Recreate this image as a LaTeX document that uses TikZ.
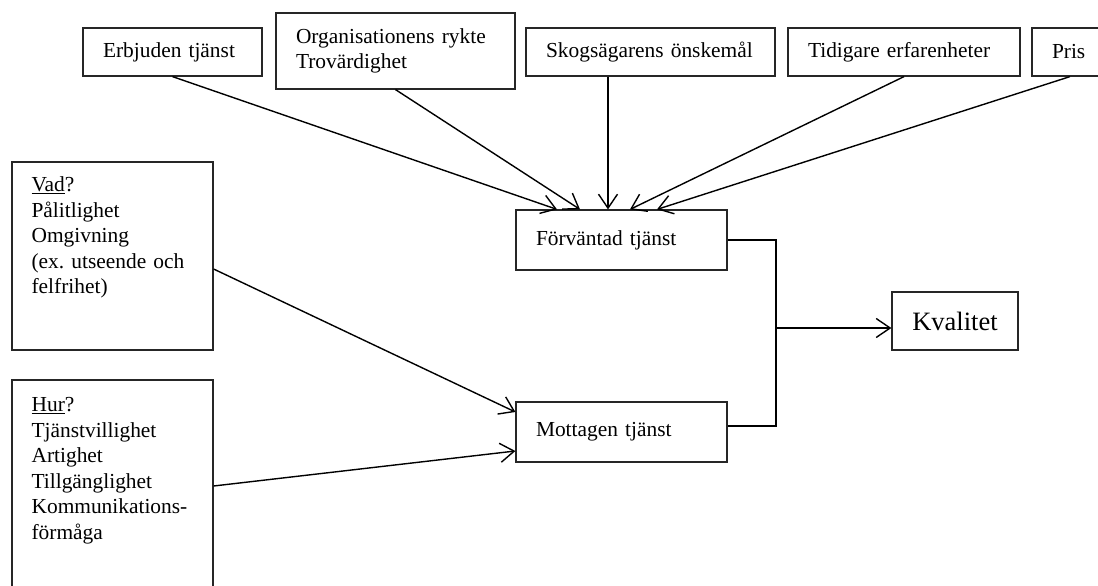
\documentclass[tikz,border=0pt]{standalone}
\usepackage{fontspec}
\setmainfont{Liberation Serif}
\usetikzlibrary{arrows.meta}
\frenchspacing

\begin{document}
\begin{tikzpicture}[
	x=1pt, y=-1pt,
	ruta/.style={rectangle, draw=black!85, line width=1.2pt, inner xsep=20pt, inner ysep=0pt, align=left, font=\fontsize{21.4}{25.6}\selectfont},
	lista/.style={inner sep=0pt, align=left, text width=170pt, anchor=base west, font=\fontsize{21.4}{25.6}\selectfont},
	pil/.style={-{Straight Barb[length=14pt, width=19pt]}, line width=1.4pt},
	linje/.style={line width=1.4pt},
	]
	\useasboundingbox (0,0) rectangle (1098,586);
	\clip (0,0) rectangle (1098,586);

		%Nodes
    \node[ruta, minimum width=179pt, minimum height=48pt, text width=139pt]        (ET)   at (172.5,52)     {Erbjuden tjänst};
    \node[ruta, minimum width=239pt, minimum height=76pt, text width=199pt]        (OR)   at (395.5,51)     {Organisationens rykte\\Trovärdighet};
    \node[ruta, minimum width=249pt, minimum height=48pt, text width=209pt]        (SK)   at (650.5,52)     {Skogsägarens önskemål};
    \node[ruta, minimum width=232pt, minimum height=48pt, text width=192pt]        (TE)   at (904,52)       {Tidigare erfarenheter};
    \node[ruta, minimum width=76pt, minimum height=48pt, text width=36pt]          (PR)   at (1070,52)      {Pris};
    \node[ruta, minimum width=211pt, minimum height=60pt, text width=171pt]        (FV)   at (621.5,240)    {Förväntad tjänst};
    \node[ruta, minimum width=211pt, minimum height=60pt, text width=171pt]        (MT)   at (621.5,432)    {Mottagen tjänst};
    \node[ruta, minimum width=126pt, minimum height=58pt, inner xsep=0pt, align=center, font=\fontsize{26.5}{30}\selectfont]  (KV)  at (955,321)  {Kvalitet};
    \node[ruta, minimum width=201pt, minimum height=188pt]                         (VAD)  at (112.5,256)    {};
    \node[lista]   (VADtext)   at ([shift={(20pt,-30pt)}]VAD.north west)   {\underline{Vad}?\\Pålitlighet\\Omgivning\\(ex. utseende och\\felfrihet)};
    \node[ruta, minimum width=201pt, minimum height=240pt]                         (HUR)  at (112.5,500)    {};
    \node[lista]   (HURtext)   at ([shift={(20pt,-32pt)}]HUR.north west)   {\underline{Hur}?\\Tjänstvillighet\\Artighet\\Tillgänglighet\\Kommunikations-\\förmåga};
    \coordinate (nod) at (776,328);

		%Lines
		\draw[pil] (ET.south) to ([xshift=-64.5pt]FV.north);
		\draw[pil] (OR.south) to ([xshift=-41.5pt]FV.north);
		\draw[pil] ([xshift=-42.5pt]SK.south) to ([xshift=-13.5pt]FV.north);
		\draw[pil] (TE.south) to ([xshift=8.5pt]FV.north);
		\draw[pil] (PR.south) to ([xshift=35.5pt]FV.north);
		\draw[pil] ([yshift=-13pt]VAD.east) to ([yshift=20pt]MT.west);
		\draw[pil] ([yshift=14pt]HUR.east) to ([yshift=-19pt]MT.west);
		\draw[linje] (FV.east) -| (nod) |- ([yshift=6pt]MT.east);
		\draw[pil] (nod) to (nod -| KV.west);
	\end{tikzpicture}
\end{document}
